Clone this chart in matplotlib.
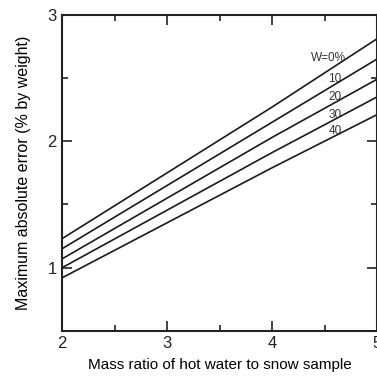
import matplotlib
matplotlib.use("Agg")
import matplotlib.pyplot as plt
from matplotlib.ticker import MultipleLocator

plt.rcParams['font.family'] = ['Liberation Sans', 'DejaVu Sans']

# mass ratio of hot water to snow sample
ratio = [2, 3, 4, 5]
# maximum absolute error (% by weight) for each liquid water content W
err_w0 = [1.23, 1.75, 2.27, 2.81]
err_w10 = [1.15, 1.65, 2.15, 2.65]
err_w20 = [1.07, 1.55, 2.03, 2.49]
err_w30 = [1.00, 1.455, 1.91, 2.35]
err_w40 = [0.92, 1.355, 1.79, 2.21]
curve_labels = ["W=0%", "10", "20", "30", "40"]
label_y = [2.66, 2.49, 2.35, 2.21, 2.08]

fig = plt.figure(figsize=(3.77, 3.79), dpi=100)
ax = fig.add_axes([0.165, 0.127, 0.835, 0.834])

curves = [err_w0, err_w10, err_w20, err_w30, err_w40]
for vals in curves:
    ax.plot(ratio, vals, color='#1a1a1a', lw=1.2)

for i, (txt, yy) in enumerate(zip(curve_labels, label_y)):
    x = 4.54 if i == 0 else 4.60
    ax.text(x, yy, txt, fontsize=8.5, ha='center', va='center', color='#333333')

ax.set_xlim(2, 5)
ax.set_ylim(0.5, 3)
ax.xaxis.set_major_locator(MultipleLocator(1))
ax.xaxis.set_minor_locator(MultipleLocator(0.5))
ax.yaxis.set_major_locator(MultipleLocator(1))
ax.yaxis.set_minor_locator(MultipleLocator(0.5))
ax.tick_params(which='both', direction='in', top=True, right=True,
               width=1.2, labelsize=12, colors='#222222', pad=4)
ax.tick_params(which='major', length=7)
ax.tick_params(which='minor', length=4)
for s in ax.spines.values():
    s.set_linewidth(1.5)
    s.set_color('#222222')

ax.set_xlabel('Mass ratio of hot water to snow sample', fontsize=11, labelpad=5)
ax.set_ylabel('Maximum absolute error (% by weight)', fontsize=11.5, labelpad=12)

fig.savefig('out.png', dpi=100)
